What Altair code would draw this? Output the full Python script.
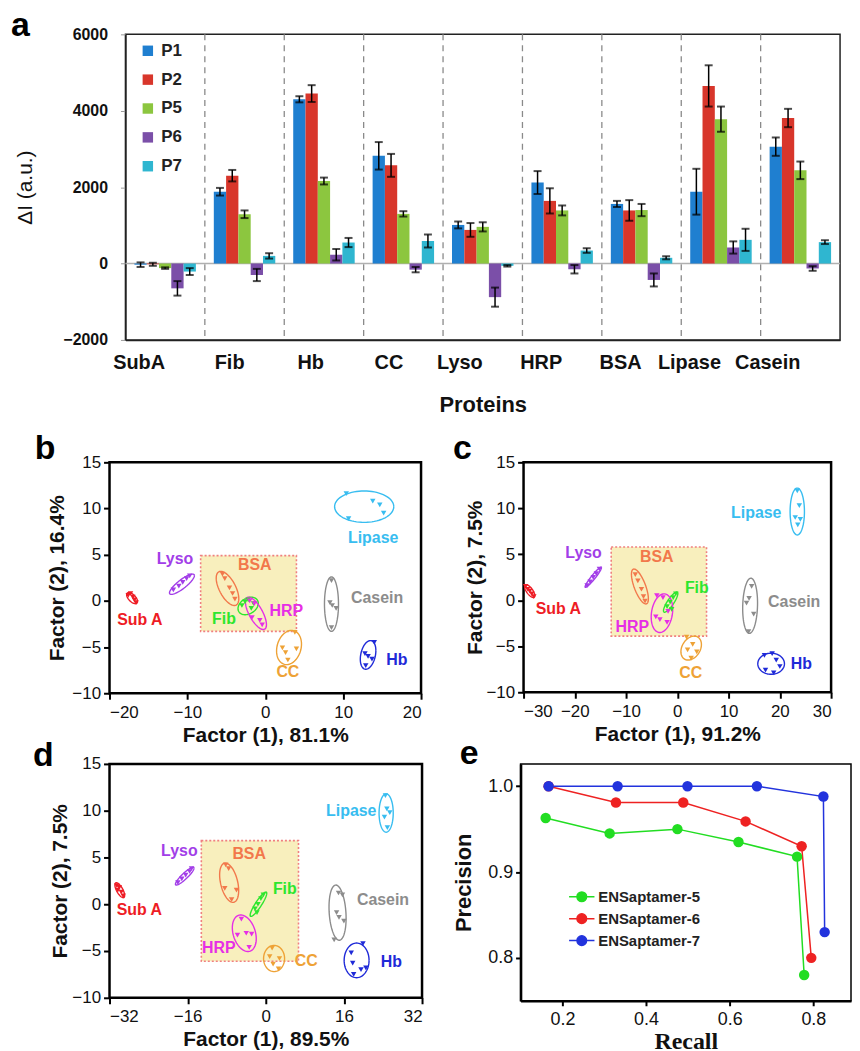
import altair as alt
import numpy as np
import pandas as pd

FONT = "Liberation Sans"

# ---------------- panel a data ----------------
proteins = ["SubA", "Fib", "Hb", "CC", "Lyso", "HRP", "BSA", "Lipase", "Casein"]
probes = ["P1", "P2", "P5", "P6", "P7"]
probe_colors = ["#1f7fd0", "#d8362b", "#8cc63f", "#7b4fa8", "#2fb6d0"]
p1 = [-30, 1880, 4300, 2820, 1010, 2120, 1560, 1880, 3060]
p1_err = [60, 100, 80, 360, 90, 300, 80, 600, 240]
p2 = [-20, 2300, 4450, 2570, 880, 1640, 1390, 4650, 3810]
p2_err = [40, 150, 220, 300, 180, 330, 270, 540, 240]
p5 = [-120, 1290, 2160, 1300, 960, 1390, 1400, 3780, 2440]
p5_err = [20, 100, 90, 70, 120, 130, 160, 330, 230]
p6 = [-650, -300, 230, -160, -880, -150, -430, 420, -130]
p6_err = [190, 160, 150, 70, 250, 110, 170, 160, 60]
p7 = [-210, 200, 550, 590, -60, 340, 150, 620, 560]
p7_err = [90, 70, 120, 170, 20, 60, 40, 290, 50]

# ---------------- PCA panels data ----------------
clusters = ["Sub A", "Lyso", "BSA", "Fib", "HRP", "CC", "Casein", "Hb", "Lipase"]
cluster_colors = ["#ee1c25", "#a23ee8", "#f2784b", "#2ee62e", "#e62ee6",
                  "#eea236", "#8c8c8c", "#1f2ad8", "#38bdf0"]

b_points = {
    "Sub A": ([-17.6, -17.3, -17.0, -16.8, -16.6], [0.6, 0.8, 0.4, 0.1, -0.2]),
    "Lyso": ([-11.8, -11.1, -10.6, -10.1, -9.7], [1.2, 1.6, 2.0, 2.4, 2.7]),
    "BSA": ([-5.5, -5.2, -4.6, -4.2, -3.9], [2.9, 2.4, 1.4, 0.8, 0.2]),
    "Fib": ([-3.0, -2.6, -2.2, -1.8, -1.5], [-0.5, -0.1, 0.1, -0.8, -0.3]),
    "HRP": ([-2.0, -1.4, -1.7, -0.7, -0.4], [0.0, -0.3, -1.8, -2.1, -2.6]),
    "CC": ([3.8, 2.2, 2.6, 4.0, 2.9], [-3.4, -5.1, -5.6, -5.2, -6.4]),
    "Casein": ([8.5, 8.3, 8.6, 9.1, 8.5], [2.2, -0.2, -0.5, -0.8, -2.9]),
    "Hb": ([14.0, 12.8, 13.2, 13.7, 12.9], [-4.5, -5.7, -6.0, -6.3, -7.0]),
    "Lipase": ([10.4, 13.8, 14.7, 15.2, 10.7], [11.6, 10.8, 10.4, 9.5, 8.9]),
}
# center x, center y, half-extent x, half-extent y, correlation
b_ellipses = {
    "Sub A": (-17.1, 0.3, 0.7, 0.6, -0.6),
    "Lyso": (-10.7, 1.8, 1.6, 1.1, 0.85),
    "BSA": (-4.85, 1.35, 1.45, 1.85, -0.6),
    "Fib": (-2.2, -0.55, 1.3, 0.95, 0.3),
    "HRP": (-1.2, -1.35, 1.35, 1.75, -0.7),
    "CC": (3.05, -5.05, 1.6, 1.85, 0.2),
    "Casein": (8.5, -0.35, 0.9, 2.95, 0.0),
    "Hb": (13.2, -5.85, 1.0, 1.55, 0.3),
    "Lipase": (12.7, 10.2, 3.8, 1.7, 0.0),
}
b_labels = {
    "Sub A": (-16.1, -2.05), "Lyso": (-11.6, 4.5), "BSA": (-1.35, 3.9),
    "Fib": (-5.3, -2.0), "HRP": (2.7, -1.1), "CC": (2.9, -7.65),
    "Casein": (14.35, 0.35), "Hb": (16.9, -6.4), "Lipase": (13.85, 6.8),
}
b_box = (-8.3, 4.0, -3.3, 4.9)

c_points = {
    "Sub A": ([-29.6, -29.2, -28.8, -28.4, -28.0], [1.5, 1.2, 1.0, 0.7, 0.4]),
    "Lyso": ([-17.6, -17.0, -16.4, -15.8, -15.2], [1.6, 2.0, 2.5, 2.9, 3.4]),
    "BSA": ([-8.2, -7.7, -7.0, -6.6, -6.3], [2.8, 2.1, 1.2, 0.4, -0.1]),
    "Fib": ([-0.3, -0.8, -1.4, -2.0, -1.1], [0.7, 0.3, -0.2, -0.7, -1.0]),
    "HRP": ([-4.0, -2.8, -4.2, -3.4, -2.0, -1.8], [0.5, 0.3, -1.8, -2.1, -2.4, -1.2]),
    "CC": ([1.8, 3.0, 2.0, 3.8, 2.7], [-4.0, -4.8, -5.4, -5.6, -6.3]),
    "Casein": ([14.5, 14.0, 13.5, 14.9, 13.9], [1.5, 0.2, -0.3, -1.5, -3.4]),
    "Hb": ([17.0, 18.5, 19.3, 20.0, 17.2, 18.8], [-6.0, -5.8, -6.5, -7.2, -7.6, -7.9]),
    "Lipase": ([23.4, 23.8, 23.0, 24.0, 23.5], [11.9, 10.3, 9.0, 8.8, 8.2]),
}
c_ellipses = {
    "Sub A": (-28.8, 1.0, 1.0, 0.7, -0.7),
    "Lyso": (-16.4, 2.5, 1.6, 1.1, 0.95),
    "BSA": (-7.3, 1.5, 1.65, 1.9, -0.7),
    "Fib": (-1.3, -0.2, 1.4, 1.1, 0.85),
    "HRP": (-3.0, -1.4, 2.1, 2.1, 0.2),
    "CC": (2.7, -5.2, 2.0, 1.3, 0.3),
    "Casein": (14.2, -0.6, 1.45, 3.0, 0.1),
    "Hb": (18.3, -6.9, 2.6, 1.15, 0.0),
    "Lipase": (23.4, 9.65, 1.4, 2.55, 0.0),
}
c_labels = {
    "Sub A": (-23.2, -0.9), "Lyso": (-18.3, 5.1), "BSA": (-4.0, 4.7),
    "Fib": (3.8, 1.3), "HRP": (-8.8, -2.9), "CC": (2.6, -7.9),
    "Casein": (22.8, -0.2), "Hb": (24.2, -6.9), "Lipase": (15.4, 9.5),
}
c_box = (-12.9, 5.7, -3.9, 5.8)

d_points = {
    "Sub A": ([-30.5, -30.0, -29.6, -29.2, -30.3], [2.0, 1.8, 1.3, 0.9, 1.5]),
    "Lyso": ([-18.0, -17.2, -16.4, -15.6, -15.2], [2.3, 2.7, 3.1, 3.5, 3.8]),
    "BSA": ([-8.2, -7.6, -8.4, -6.0, -7.0], [4.2, 3.8, 1.7, 1.5, 0.5]),
    "Fib": ([-0.5, -1.0, -1.6, -2.2, -1.8], [1.0, 0.6, 0.0, -0.5, -0.9]),
    "HRP": ([-5.0, -5.8, -4.0, -2.9, -3.4], [-1.6, -3.3, -3.1, -3.2, -4.6]),
    "CC": ([1.3, 0.8, 2.8, 1.5, 2.6], [-4.7, -5.6, -5.8, -6.4, -6.9]),
    "Casein": ([14.9, 15.7, 14.5, 15.0, 16.0, 14.0], [1.2, 1.0, -0.9, -1.4, -1.8, -3.8]),
    "Hb": ([19.9, 17.5, 17.8, 19.5, 20.5, 18.0], [-4.2, -5.2, -6.3, -7.0, -6.8, -7.5]),
    "Lipase": ([24.5, 24.8, 24.3, 25.4, 24.9], [11.6, 10.2, 9.3, 9.8, 8.2]),
}
d_ellipses = {
    "Sub A": (-29.9, 1.5, 1.0, 0.8, -0.7),
    "Lyso": (-16.6, 3.0, 1.9, 0.95, 0.9),
    "BSA": (-7.5, 2.3, 1.95, 2.1, -0.4),
    "Fib": (-1.5, 0.0, 1.7, 1.3, 0.9),
    "HRP": (-4.4, -3.1, 2.45, 1.95, -0.3),
    "CC": (1.7, -5.8, 2.15, 1.4, 0.0),
    "Casein": (14.7, -0.9, 1.75, 2.95, -0.2),
    "Hb": (18.6, -6.0, 2.55, 1.85, 0.0),
    "Lipase": (24.65, 9.75, 1.45, 2.05, 0.0),
}
d_labels = {
    "Sub A": (-25.9, -0.6), "Lyso": (-17.7, 5.7), "BSA": (-3.4, 5.4),
    "Fib": (3.9, 1.6), "HRP": (-9.6, -4.7), "CC": (8.3, -6.1),
    "Casein": (24.0, 0.4), "Hb": (25.7, -6.2), "Lipase": (17.5, 10.0),
}
d_box = (-13.2, 6.7, -6.1, 6.8)

# ---------------- panel e data ----------------
series_names = ["ENSaptamer-5", "ENSaptamer-6", "ENSaptamer-7"]
series_colors = ["#22dd22", "#ee2222", "#2233dd"]
recall5 = [0.160, 0.313, 0.475, 0.621, 0.761, 0.778]
prec5 = [0.963, 0.945, 0.950, 0.935, 0.918, 0.780]
recall6 = [0.167, 0.328, 0.489, 0.638, 0.772, 0.795]
prec6 = [1.0, 0.981, 0.981, 0.959, 0.930, 0.800]
recall7 = [0.167, 0.332, 0.499, 0.665, 0.824, 0.827]
prec7 = [1.0, 1.0, 1.0, 1.0, 0.988, 0.830]


def letter_mark(letter, lx, ly):
    return alt.Chart(pd.DataFrame({"t": [letter]})).mark_text(
        font=FONT, fontSize=34, fontWeight="bold", align="left", baseline="alphabetic",
        color="black").encode(x=alt.value(lx), y=alt.value(ly), text="t:N")


# =============== panel a ===============
rows = []
for s, vals, errs in zip(probes, [p1, p2, p5, p6, p7], [p1_err, p2_err, p5_err, p6_err, p7_err]):
    for i, c in enumerate(proteins):
        rows.append(dict(protein=c, probe=s, v=vals[i], lo=vals[i] - errs[i], hi=vals[i] + errs[i]))
dfa = pd.DataFrame(rows)

xs_a = alt.Scale(domain=proteins, paddingInner=0, paddingOuter=0)
xo_a = alt.XOffset("probe:N", sort=probes, scale=alt.Scale(domain=probes, paddingOuter=0.73, paddingInner=0))
ys_a = alt.Scale(domain=[-2000, 6000], nice=False, zero=False)
x_axis_a = alt.Axis(title="Proteins", labelAngle=0, ticks=False, labelPadding=23,
                    labelFont=FONT, labelFontSize=20, labelFontWeight="bold", labelColor="#111",
                    titleFont=FONT, titleFontSize=22, titleFontWeight="bold", titleColor="#111",
                    titlePadding=22, domainColor="#222", domainWidth=1.5)
y_axis_a = alt.Axis(title="ΔI (a.u.)", values=[-2000, 0, 2000, 4000, 6000], format="d", grid=False,
                    labelFont=FONT, labelFontSize=16, labelFontWeight="bold", labelColor="#111",
                    labelPadding=13,
                    tickColor="#999", tickSize=5, domainColor="#222", domainWidth=1.5,
                    titleFont=FONT, titleFontSize=21, titleFontWeight="normal", titleColor="#111",
                    minExtent=52, maxExtent=52, titlePadding=38)

bars = alt.Chart(dfa).mark_bar().encode(
    x=alt.X("protein:N", sort=proteins, scale=xs_a, axis=x_axis_a),
    xOffset=xo_a,
    y=alt.Y("v:Q", scale=ys_a, axis=y_axis_a),
    color=alt.Color("probe:N", sort=probes, scale=alt.Scale(domain=probes, range=probe_colors),
                    legend=alt.Legend(title=None, orient="none", legendX=14, legendY=8,
                                      symbolType="square", symbolSize=110, symbolStrokeWidth=0,
                                      labelFont=FONT, labelFontSize=17, labelFontWeight="bold",
                                      labelColor="#222", rowPadding=11, labelOffset=5, padding=0)),
)
err_rule = alt.Chart(dfa).mark_rule(color="black", strokeWidth=1.5).encode(
    x=alt.X("protein:N", sort=proteins, scale=xs_a), xOffset=xo_a,
    y=alt.Y("lo:Q", scale=ys_a), y2="hi:Q")
cap_lo = alt.Chart(dfa).mark_tick(color="black", thickness=2, size=8).encode(
    x=alt.X("protein:N", sort=proteins, scale=xs_a), xOffset=xo_a, y=alt.Y("lo:Q", scale=ys_a))
cap_hi = alt.Chart(dfa).mark_tick(color="black", thickness=2, size=8).encode(
    x=alt.X("protein:N", sort=proteins, scale=xs_a), xOffset=xo_a, y=alt.Y("hi:Q", scale=ys_a))
sep_df = pd.DataFrame({"protein": proteins[1:]})
seps = alt.Chart(sep_df).mark_rule(color="#8a8a8a", strokeDash=[6, 5], strokeWidth=1.3).encode(
    x=alt.X("protein:N", sort=proteins, scale=xs_a, bandPosition=0))
zero_df = pd.DataFrame({"v": [0]})
zero = alt.Chart(zero_df).mark_rule(color="#b0b0b0", strokeWidth=1.5).encode(
    y=alt.Y("v:Q", scale=ys_a, axis=y_axis_a))

chart_a = alt.layer(seps, zero, bars, err_rule, cap_lo, cap_hi, letter_mark("a", -115, 2)).properties(
    width=718, height=307, view=alt.ViewBackground(stroke="#222", strokeWidth=1.5))

# tiny empty cell that lets panel a sit slightly right of the panels below it
spacer = alt.Chart(pd.DataFrame({"v": [0]})).mark_point(
    opacity=0, size=1, filled=True, strokeWidth=0).encode(
    x=alt.value(0), y=alt.value(0)).properties(
    width=1, height=1, view=alt.ViewBackground(stroke="transparent", strokeWidth=0))


# =============== PCA panels ===============
def ellipse_df(ells):
    t = np.linspace(0, 2 * np.pi, 73)
    out = []
    for name, (cx, cy, rx, ry, rho) in ells.items():
        s = np.sqrt(1 - rho ** 2)
        for k, tt in enumerate(t):
            out.append(dict(name=name, k=k, x=cx + rx * np.cos(tt),
                            y=cy + ry * (rho * np.cos(tt) + s * np.sin(tt))))
    return pd.DataFrame(out)


def pca_panel(points, ells, labels, box, xdom, xvals, xtitle, ytitle, w, h,
              letter, lx, ly, yext, ytpad):
    color = alt.Color("name:N", scale=alt.Scale(domain=clusters, range=cluster_colors), legend=None)
    xs = alt.Scale(domain=xdom, nice=False, zero=False)
    ys = alt.Scale(domain=[-10, 15], nice=False, zero=False)
    common = dict(grid=False, domain=False, tickColor="black", tickWidth=2, tickSize=6,
                  labelFont=FONT, labelFontSize=17, labelColor="#111",
                  titleFont=FONT, titleFontSize=21, titleFontWeight="bold", titleColor="#111")
    xax = alt.Axis(values=xvals, title=xtitle, labelPadding=5, minExtent=27, maxExtent=27,
                   titlePadding=4, **common)
    yax = alt.Axis(values=[-10, -5, 0, 5, 10, 15], title=ytitle, labelPadding=3,
                   minExtent=yext, maxExtent=yext, titlePadding=ytpad, **common)
    boxdf = pd.DataFrame([dict(x1=box[0], x2=box[1], y1=box[2], y2=box[3])])
    rect = alt.Chart(boxdf).mark_rect(fill="#f8efbd", stroke="#f08080", strokeDash=[2, 2],
                                      strokeWidth=1.6).encode(
        x=alt.X("x1:Q", scale=xs, axis=xax), x2="x2:Q",
        y=alt.Y("y1:Q", scale=ys, axis=yax), y2="y2:Q")
    ell = alt.Chart(ellipse_df(ells)).mark_line(strokeWidth=1.4).encode(
        x=alt.X("x:Q", scale=xs), y=alt.Y("y:Q", scale=ys), color=color,
        detail="name:N", order="k:Q")
    prow = []
    for name, (px, py) in points.items():
        for a, b in zip(px, py):
            prow.append(dict(name=name, x=a, y=b))
    pts = alt.Chart(pd.DataFrame(prow)).mark_point(shape="triangle-down", filled=True, size=30,
                                                   opacity=1).encode(
        x=alt.X("x:Q", scale=xs), y=alt.Y("y:Q", scale=ys), color=color)
    ldf = pd.DataFrame([dict(name=n, x=v[0], y=v[1]) for n, v in labels.items()])
    txt = alt.Chart(ldf).mark_text(font=FONT, fontSize=16, fontWeight="bold").encode(
        x=alt.X("x:Q", scale=xs), y=alt.Y("y:Q", scale=ys), text="name:N", color=color)
    return alt.layer(rect, ell, pts, txt, letter_mark(letter, lx, ly)).properties(
        width=w, height=h, view=alt.ViewBackground(stroke="black", strokeWidth=2.5))


chart_b = pca_panel(b_points, b_ellipses, b_labels, b_box, [-20, 20], [-20, -10, 0, 10, 20],
                    "Factor (1), 81.1%", "Factor (2), 16.4%", 313, 232, "b", -75, -3, 38, 4)
chart_c = pca_panel(c_points, c_ellipses, c_labels, c_box, [-30, 30], [-30, -20, -10, 0, 10, 20, 30],
                    "Factor (1), 91.2%", "Factor (2), 7.5%", 309, 231, "c", -71, -3, 36, 2)
chart_d = pca_panel(d_points, d_ellipses, d_labels, d_box, [-32, 32], [-32, -16, 0, 16, 32],
                    "Factor (1), 89.5%", "Factor (2), 7.5%", 314, 235, "d", -77, 2, 38, 1)

# =============== panel e ===============
erows = []
for name, rr, pp in zip(series_names, [recall5, recall6, recall7], [prec5, prec6, prec7]):
    for k, (r, p) in enumerate(zip(rr, pp)):
        erows.append(dict(series=name, k=k, recall=r, precision=p))
dfe = pd.DataFrame(erows)
xs_e = alt.Scale(domain=[0.1, 0.89], nice=False, zero=False)
ys_e = alt.Scale(domain=[0.75, 1.026], nice=False, zero=False)
common_e = dict(grid=False, domainColor="black", domainWidth=2.5, tickColor="black", tickWidth=2,
                tickSize=5, labelFont=FONT, labelFontSize=18, labelColor="#111", format=".1f",
                titleColor="#111")
xax_e = alt.Axis(values=[0.2, 0.4, 0.6, 0.8], title="Recall", titleFont="Liberation Serif",
                 titleFontSize=24, titleFontWeight="bold", labelPadding=5, minExtent=27,
                 maxExtent=27, titlePadding=2, **common_e)
yax_e = alt.Axis(values=[0.8, 0.9, 1.0], title="Precision", titleFont=FONT, titleFontSize=22,
                 titleFontWeight="bold", labelPadding=3, minExtent=36, maxExtent=36,
                 titlePadding=9, **common_e)
leg_path = "M-1,0H1M0.38,0A0.38,0.38,0,1,1,-0.38,0A0.38,0.38,0,1,1,0.38,0Z"
col_e = alt.Color("series:N", sort=series_names,
                  scale=alt.Scale(domain=series_names, range=series_colors),
                  legend=alt.Legend(title=None, orient="none", legendX=48, legendY=120,
                                    symbolType=leg_path, symbolSize=650, symbolStrokeWidth=1.5,
                                    labelFont=FONT, labelFontSize=15, labelFontWeight="bold",
                                    labelColor="#222", rowPadding=0, labelOffset=3, padding=0))
lines_e = alt.Chart(dfe).mark_line(strokeWidth=1.5).encode(
    x=alt.X("recall:Q", scale=xs_e, axis=xax_e), y=alt.Y("precision:Q", scale=ys_e, axis=yax_e),
    color=col_e, order="k:Q")
dots_e = alt.Chart(dfe).mark_circle(size=110, opacity=1).encode(
    x=alt.X("recall:Q", scale=xs_e), y=alt.Y("precision:Q", scale=ys_e), color=col_e)
chart_e = alt.layer(lines_e, dots_e, letter_mark("e", -61, 0)).properties(
    width=332, height=238, view=alt.ViewBackground(stroke="black", strokeWidth=1.5))


def indep(ch):
    return ch.resolve_scale(color="independent").resolve_legend(color="independent")


row1 = indep(alt.concat(spacer, chart_a, columns=2, spacing=-101))
row2 = indep(alt.concat(chart_b, chart_c, columns=2, spacing=27))
row3 = indep(alt.concat(chart_d, chart_e, columns=2, spacing=27))
lower = indep(alt.concat(row2, row3, columns=1, spacing=-11))
chart = indep(alt.concat(row1, lower, columns=1, spacing=14)).properties(
    padding={"left": 2, "top": -2, "right": 0, "bottom": 0},
).configure(font=FONT).configure_view(strokeWidth=0)

chart.save("out.html", embed_options={"renderer": "svg", "actions": False})
